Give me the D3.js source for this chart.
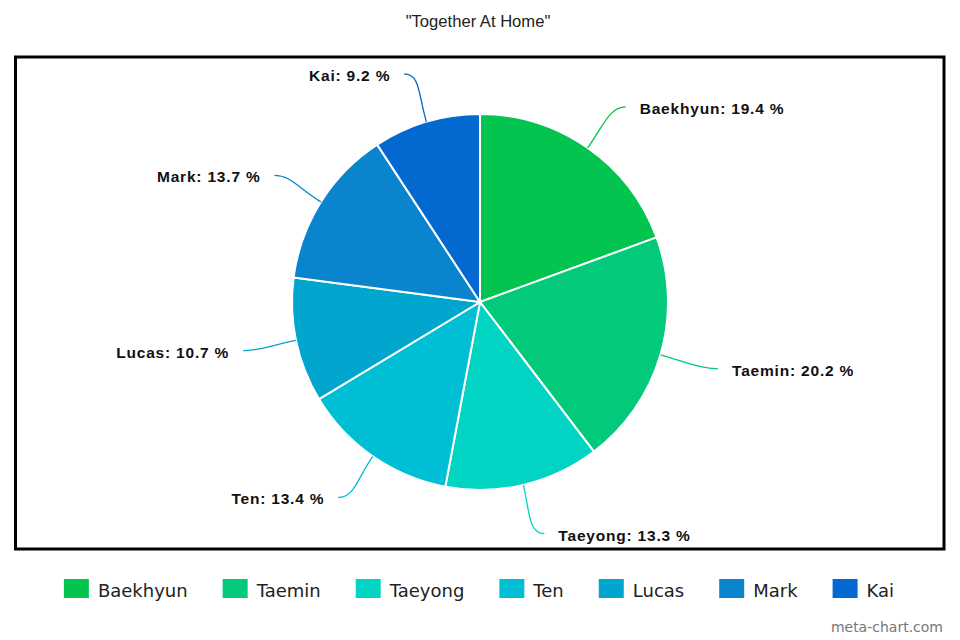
<!DOCTYPE html>
<html>
<head>
<meta charset="utf-8">
<script src="https://cdn.jsdelivr.net/npm/d3@7"></script>
<style>
  html, body { margin: 0; padding: 0; background: #fff; }
  svg { display: block; }
</style>
</head>
<body>
<svg id="chart" width="960" height="640"></svg>
<script>
// Share of the vote per member
const names = ["Baekhyun", "Taemin", "Taeyong", "Ten", "Lucas", "Mark", "Kai"];
const shares = [19.4, 20.2, 13.3, 13.4, 10.7, 13.7, 9.2];
const colors = ["#02c44f", "#03c97b", "#02d4c3", "#00bfd4", "#00a6cd", "#0a84cc", "#0468d1"];
const title = "\"Together At Home\"";
const credit = "meta-chart.com";

const svg = d3.select("#chart");
const cx = 480, cy = 302, radius = 188;
// label anchor ellipse: horizontal reach per side, vertical reach
const labelRx = { right: 248, left: 242 }, labelRy = 238;

// title
svg.append("text")
  .attr("x", 478).attr("y", 27)
  .attr("text-anchor", "middle")
  .attr("font-family", "Liberation Sans, Arial, sans-serif")
  .attr("font-size", 16.6)
  .attr("fill", "#222")
  .text(title);

// plot frame
svg.append("rect")
  .attr("x", 15.5).attr("y", 57)
  .attr("width", 928.5).attr("height", 492)
  .attr("fill", "none")
  .attr("stroke", "#000")
  .attr("stroke-width", 3);

const data = names.map((n, i) => ({ name: n, value: shares[i], color: colors[i] }));
const pie = d3.pie().sort(null).value(d => d.value);
const arcs = pie(data);
const arc = d3.arc().innerRadius(0).outerRadius(radius);

const g = svg.append("g").attr("transform", `translate(${cx},${cy})`);

g.selectAll("path.slice")
  .data(arcs)
  .join("path")
  .attr("class", "slice")
  .attr("d", arc)
  .attr("fill", d => d.data.color)
  .attr("stroke", "#fff")
  .attr("stroke-width", 2)
  .attr("stroke-linejoin", "round");

// data labels with curved connectors
arcs.forEach(d => {
  const a = (d.startAngle + d.endAngle) / 2;
  const sx = Math.sin(a), sy = -Math.cos(a);
  const right = sx >= 0;
  const dir = right ? 1 : -1;
  const ex = radius * sx, ey = radius * sy;
  // labels near the top and bottom are pushed a little further sideways
  const push = 8 * Math.pow(Math.abs(sy), 4);
  const ax = (right ? labelRx.right : labelRx.left) * sx + dir * push;
  const ay = labelRy * sy;
  const c1x = (radius + 28) * sx, c1y = (radius + 28) * sy;
  const c2x = ax - dir * 16, c2y = ay;
  g.append("path")
    .attr("d", `M${ex},${ey} C${c1x},${c1y} ${c2x},${c2y} ${ax},${ay}`)
    .attr("fill", "none")
    .attr("stroke", d.data.color)
    .attr("stroke-width", 1.3);
  g.append("text")
    .attr("x", ax + dir * 14)
    .attr("y", ay + 7)
    .attr("text-anchor", right ? "start" : "end")
    .attr("font-family", "Liberation Sans, Arial, sans-serif")
    .attr("font-weight", "bold")
    .attr("font-size", 15.5)
    .attr("letter-spacing", "0.8px")
    .attr("fill", "#111")
    .text(`${d.data.name}: ${d.data.value} %`);
});

// legend
const legend = svg.append("g");
const items = legend.selectAll("g.item").data(data).join("g").attr("class", "item");
items.append("rect")
  .attr("width", 25).attr("height", 19)
  .attr("y", 579)
  .attr("fill", d => d.color);
items.append("text")
  .attr("x", 34).attr("y", 597)
  .attr("font-family", "DejaVu Sans, sans-serif")
  .attr("font-size", 18)
  .attr("fill", "#222")
  .text(d => d.name);
let x = 0;
const offsets = [];
items.each(function () {
  offsets.push(x);
  const w = 34 + d3.select(this).select("text").node().getComputedTextLength();
  x += w + 35;
});
const total = x - 35;
const startX = 479 - total / 2;
items.attr("transform", (d, i) => `translate(${startX + offsets[i]},0)`);

// credit
svg.append("text")
  .attr("x", 943).attr("y", 632)
  .attr("text-anchor", "end")
  .attr("font-family", "DejaVu Sans, sans-serif")
  .attr("font-size", 14)
  .attr("fill", "#777")
  .text(credit);
</script>
</body>
</html>
